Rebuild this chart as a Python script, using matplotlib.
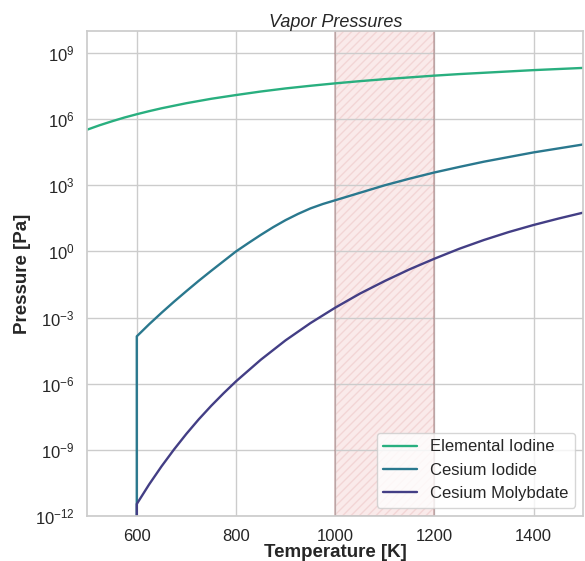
import matplotlib
matplotlib.use("Agg")
import matplotlib.pyplot as plt
import numpy as np
import seaborn as sns

# log10 of vapor pressure [Pa] against temperature [K]
temps_i2 = [500, 525, 550, 575, 600, 625, 650, 700, 750, 800, 850, 900, 950, 1000,
            1050, 1100, 1150, 1200, 1250, 1300, 1350, 1400, 1450, 1500]
log_i2 = [5.52, 5.72, 5.90, 6.07, 6.22, 6.36, 6.49, 6.72, 6.92, 7.09, 7.25, 7.39, 7.51, 7.62,
          7.72, 7.81, 7.89, 7.97, 8.04, 8.10, 8.16, 8.22, 8.27, 8.32]

# CsI and Cs2MoO4 only start at 600 K (first entry falls off the axis)
temps_csi = [600, 600, 625, 650, 675, 700, 725, 750, 775, 800, 825, 850, 875, 900,
             925, 950, 975, 1000, 1050, 1100, 1150, 1200, 1250, 1300, 1350, 1400, 1450, 1500]
log_csi = [-14.0, -3.85, -3.30, -2.78, -2.28, -1.80, -1.33, -0.88, -0.44, 0.0, 0.38, 0.75, 1.10, 1.42,
           1.70, 1.95, 2.15, 2.32, 2.66, 3.00, 3.30, 3.58, 3.83, 4.07, 4.28, 4.49, 4.67, 4.85]

temps_csmo = [600, 600, 625, 650, 675, 700, 725, 750, 775, 800, 850, 900, 950, 1000,
              1050, 1100, 1150, 1200, 1250, 1300, 1350, 1400, 1450, 1500]
log_csmo = [-14.0, -11.45, -10.56, -9.74, -8.98, -8.27, -7.61, -7.00, -6.43, -5.89, -4.91, -4.03, -3.25, -2.55,
            -1.91, -1.34, -0.81, -0.33, 0.12, 0.52, 0.88, 1.20, 1.49, 1.76]

labels = ["Elemental Iodine", "Cesium Iodide", "Cesium Molybdate"]
colors = ["#29af7f", "#2a788e", "#433e85"]

# operating window [K]
window = (1000, 1200)

sns.set_theme(style="whitegrid")
plt.rcParams["font.family"] = ["Liberation Sans", "DejaVu Sans"]
plt.rcParams["mathtext.fontset"] = "custom"
plt.rcParams["mathtext.rm"] = "Liberation Sans"
plt.rcParams["mathtext.it"] = "Liberation Sans:italic"
plt.rcParams["mathtext.bf"] = "Liberation Sans:bold"

fig = plt.figure(figsize=(5.85, 5.61), dpi=100)
ax = fig.add_axes([0.149, 0.080, 0.848, 0.865])

ax.plot(temps_i2, 10 ** np.array(log_i2), color=colors[0], lw=1.7, label=labels[0])
ax.plot(temps_csi, 10 ** np.array(log_csi), color=colors[1], lw=1.7, label=labels[1])
ax.plot(temps_csmo, 10 ** np.array(log_csmo), color=colors[2], lw=1.7, label=labels[2])

# shaded window: light fill + faint hatch, then a darker outline
ax.axvspan(window[0], window[1], facecolor=(0.87, 0.45, 0.45, 0.15),
           edgecolor=(0.85, 0.55, 0.55, 0.22), hatch="////", lw=0, zorder=0.5)
ax.axvspan(window[0], window[1], facecolor="none",
           edgecolor=(0.6, 0.35, 0.35, 0.4), lw=1.2, zorder=0.6)

ax.set_yscale("log")
ax.set_xlim(500, 1500)
ax.set_ylim(1e-12, 1e10)
ax.set_yticks([1e-12, 1e-9, 1e-6, 1e-3, 1e0, 1e3, 1e6, 1e9])
ax.yaxis.set_minor_locator(matplotlib.ticker.NullLocator())
ax.set_xticks([600, 800, 1000, 1200, 1400])

ax.set_title("Vapor Pressures", style="italic", fontsize=13, pad=3)
ax.set_xlabel("Temperature [K]", fontweight="bold", fontsize=13.5, labelpad=0)
ax.set_ylabel("Pressure [Pa]", fontweight="bold", fontsize=13.5, labelpad=3)
ax.tick_params(labelsize=12, pad=3)

ax.legend(loc="lower right", fontsize=12, framealpha=0.8, handlelength=2.0)

fig.savefig("out.png", dpi=100)
